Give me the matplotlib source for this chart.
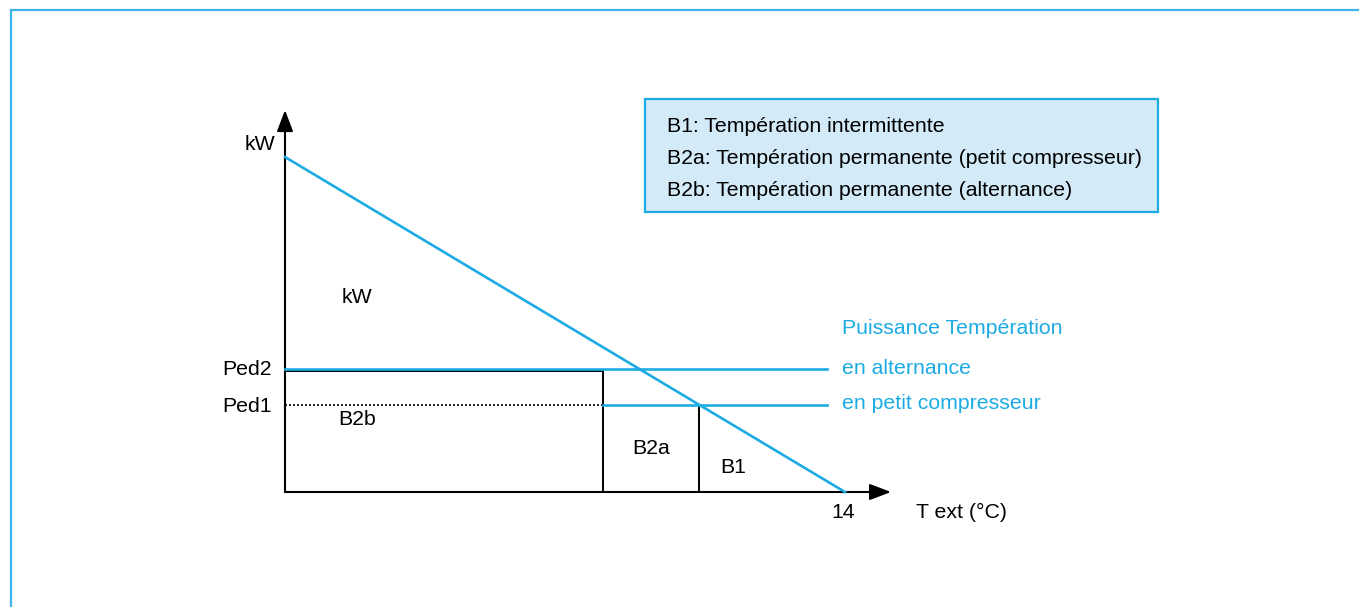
import matplotlib.pyplot as plt
from matplotlib.patches import Rectangle
import numpy as np

plt.rcParams['font.family'] = ['Liberation Sans', 'DejaVu Sans']

# données du schéma (unités arbitraires)
t_ext = [0, 14]            # T ext (°C)
kw_besoin = [10, 0]        # besoin kW
ped2 = 3.67                # puissance températion en alternance
ped1 = 2.6                 # puissance températion en petit compresseur
t_b2b = 7.95               # limite B2b / B2a
t_fin_lignes = 13.55
legende = ["B1: Températion intermittente",
           "B2a: Températion permanente (petit compresseur)",
           "B2b: Températion permanente (alternance)"]
libelles_droite = ["Puissance Températion", "en alternance", "en petit compresseur"]

bleu = '#1cabe2'
fs = 15.3

fig = plt.figure(figsize=(13.59, 6.07), dpi=100)
ax = fig.add_axes([0, 0, 1, 1])
# 40 px par °C, 33.5 px par kW, origine au pixel (285, 492)
ax.set_xlim(-285 / 40, (1359 - 285) / 40)
ax.set_ylim(-(607 - 492) / 33.5, 492 / 33.5)
ax.axis('off')

# cadre de la page
fig.patches.append(Rectangle((11 / 1359, -0.1), 1.2, 1 - 10 / 607 + 0.1,
                             transform=fig.transFigure, fill=False,
                             edgecolor='#3ab4ea', lw=1.6))

# axes fléchés
fleche = dict(arrowstyle='-|>,head_length=1.0,head_width=0.38', color='black',
              lw=1.5, mutation_scale=13, shrinkA=0, shrinkB=0)
ax.annotate('', xy=(15.15, 0), xytext=(0, 0), arrowprops=fleche)
ax.annotate('', xy=(0, 11.4), xytext=(0, 0), arrowprops=fleche)

# intersection besoin / Ped1
t_b1 = t_ext[1] * (1 - ped1 / kw_besoin[0])

# cases B2b et B2a
ax.plot([0, t_b2b, t_b2b], [ped2 - 0.06, ped2 - 0.06, 0], color='black', lw=1.4)
ax.plot([t_b1, t_b1], [ped1, 0], color='black', lw=1.4)
ax.plot([0, t_b2b], [ped1, ped1], color='black', lw=1.2, ls=(0, (1.2, 1.2)))

# droite de besoin et puissances
ax.plot(t_ext, kw_besoin, color=bleu, lw=1.9, zorder=3)
ax.plot([0, t_fin_lignes], [ped2, ped2], color=bleu, lw=1.9, zorder=3)
ax.plot([t_b2b, t_fin_lignes], [ped1, ped1], color=bleu, lw=1.9, zorder=3)

# textes
ax.text(-0.25, 10.36, 'kW', ha='right', va='center', fontsize=fs)
ax.text(1.8, 5.82, 'kW', ha='center', va='center', fontsize=fs)
ax.text(-0.32, ped2, 'Ped2', ha='right', va='center', fontsize=fs)
ax.text(-0.32, ped1 - 0.05, 'Ped1', ha='right', va='center', fontsize=fs)
ax.text(1.8, 2.15, 'B2b', ha='center', va='center', fontsize=fs)
ax.text(9.15, 1.31, 'B2a', ha='center', va='center', fontsize=fs)
ax.text(11.2, 0.72, 'B1', ha='center', va='center', fontsize=fs)
ax.text(13.95, -0.6, '14', ha='center', va='center', fontsize=fs)
ax.text(15.78, -0.6, 'T ext (°C)', ha='left', va='center', fontsize=fs)

for lib, y in zip(libelles_droite, [4.87, ped2 + 0.02, ped1 + 0.03]):
    ax.text(13.93, y, lib, ha='left', va='center', fontsize=fs, color=bleu)

# encadré de légende
x0, x1 = (645 - 285) / 40, (1158 - 285) / 40
y0, y1 = (492 - 212) / 33.5, (492 - 99) / 33.5
ax.add_patch(Rectangle((x0, y0), x1 - x0, y1 - y0, facecolor='#d3eaf8',
                       edgecolor=bleu, lw=1.6))
for lib, py in zip(legende, [127, 159, 191]):
    ax.text((667 - 285) / 40, (492 - py) / 33.5, lib, ha='left', va='center', fontsize=fs)

fig.savefig('out.png', dpi=100)
